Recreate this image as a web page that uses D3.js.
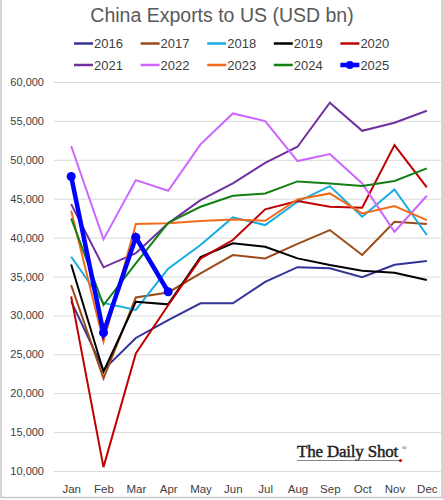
<!DOCTYPE html>
<html>
<head>
<meta charset="utf-8">
<script src="https://cdn.jsdelivr.net/npm/d3@7"></script>
<style>
  html, body { margin: 0; padding: 0; background: #fff; }
  svg { display: block; }
</style>
</head>
<body>
<svg id="chart" width="443" height="500"></svg>
<script>
const months = ["Jan","Feb","Mar","Apr","May","Jun","Jul","Aug","Sep","Oct","Nov","Dec"];
const years = ["2016","2017","2018","2019","2020","2021","2022","2023","2024","2025"];
const colors = ["#333399","#9c4a17","#17ade4","#000000","#c00000","#7030a0","#cc66ff","#f26b1d","#138013","#0000ff"];
const yTicks = [10000,15000,20000,25000,30000,35000,40000,45000,50000,55000,60000];

const v2016 = [31800, 23000, 27100, 29400, 31550, 31550, 34300, 36200, 36050, 34900, 36500, 37000];
const v2017 = [33900, 21900, 32300, 32950, 35400, 37760, 37330, 39200, 40970, 37760, 42040, 41740];
const v2018 = [37540, 31600, 30700, 36000, 39040, 42600, 41610, 44600, 46620, 42680, 46200, 40330];
const v2019 = [36550, 22760, 31750, 31420, 37500, 39260, 38830, 37330, 36470, 35740, 35480, 34540];
const v2020 = [32450, 10500, 25120, 31300, 37300, 39690, 43630, 44700, 43960, 43840, 51890, 46450];
const v2021 = [44300, 36180, 38000, 41830, 44820, 46960, 49610, 51680, 57330, 53730, 54760, 56300];
const v2022 = [51770, 39770, 47390, 46020, 51980, 55960, 54980, 49840, 50730, 46960, 40750, 45380];
const v2023 = [43450, 26620, 41740, 41850, 42130, 42340, 42170, 44900, 45680, 43110, 44050, 42250];
const v2024 = [42470, 31330, 36700, 41900, 43960, 45380, 45680, 47220, 46960, 46620, 47270, 48900];
const v2025 = [47860, 27780, 40030, 33040];

const seriesValues = [v2016, v2017, v2018, v2019, v2020, v2021, v2022, v2023, v2024, v2025];
const series = years.map((y, i) => ({ year: y, color: colors[i], values: seriesValues[i] }));

const svg = d3.select("#chart");
const font = "'Liberation Sans', Arial, sans-serif";

// frame
svg.append("path")
  .attr("d", "M1,0 V497.5 H442 V0")
  .attr("fill", "none").attr("stroke", "#c8c8c8").attr("stroke-width", 1.5);

const x = d3.scalePoint().domain(months).range([55, 443]).padding(0.5);
const y = d3.scaleLinear().domain([10000, 60000]).range([471, 82]);

// gridlines
svg.append("g").selectAll("line").data(yTicks).join("line")
  .attr("x1", 54).attr("x2", 441)
  .attr("y1", d => y(d) + 0.5).attr("y2", d => y(d) + 0.5)
  .attr("stroke", "#d9d9d9").attr("stroke-width", 1);

// y axis labels
const yAxis = d3.axisLeft(y).tickValues(yTicks).tickSize(0).tickPadding(0)
  .tickFormat(d3.format(","));
const gy = svg.append("g").attr("transform", "translate(44,0)").call(yAxis);
gy.select(".domain").remove();
gy.selectAll("text").attr("font-family", font).attr("font-size", "11px").attr("fill", "#404040");

// x axis labels
const xAxis = d3.axisBottom(x).tickSize(0).tickPadding(0);
const gx = svg.append("g").attr("transform", "translate(0,485)").call(xAxis);
gx.select(".domain").remove();
gx.selectAll("text").attr("font-family", font).attr("font-size", "11.5px").attr("fill", "#404040");

// title
svg.append("text").attr("x", 222).attr("y", 22).attr("text-anchor", "middle")
  .attr("font-family", font).attr("font-size", "19.5px").attr("fill", "#595959")
  .text("China Exports to US (USD bn)");

// lines
const line = d3.line().x((d, i) => x(months[i])).y(d => y(d));
const gl = svg.append("g");
series.forEach((s, i) => {
  const last = i === series.length - 1;
  gl.append("path").datum(s.values)
    .attr("fill", "none").attr("stroke", s.color)
    .attr("stroke-width", last ? 4.5 : 2)
    .attr("stroke-linejoin", "miter")
    .attr("d", line);
  if (last) {
    gl.selectAll(".dot").data(s.values).join("circle")
      .attr("cx", (d, j) => x(months[j])).attr("cy", d => y(d))
      .attr("r", 4.5).attr("fill", s.color);
  }
});

// legend
const lg = svg.append("g");
series.forEach((s, i) => {
  const col = i % 5, row = Math.floor(i / 5);
  const lx = 74 + col * 66.6, ly = 43.5 + row * 21.5;
  const last = i === series.length - 1;
  lg.append("line").attr("x1", lx).attr("x2", lx + 19).attr("y1", ly).attr("y2", ly)
    .attr("stroke", s.color).attr("stroke-width", last ? 4.5 : 2.5);
  if (last) lg.append("circle").attr("cx", lx + 9.5).attr("cy", ly).attr("r", 4).attr("fill", s.color);
  lg.append("text").attr("x", lx + 20).attr("y", ly + 4.6)
    .attr("font-family", font).attr("font-size", "13px").attr("fill", "#404040")
    .text(s.year);
});

// watermark
const wm = svg.append("g");
wm.append("text").attr("x", 297).attr("y", 457)
  .attr("font-family", "'Liberation Serif', 'Times New Roman', serif")
  .attr("font-size", "17px").attr("fill", "#222").attr("stroke", "#222").attr("stroke-width", 0.45)
  .attr("letter-spacing", "-0.2")
  .text("The Daily Shot");
wm.append("text").attr("x", 402).attr("y", 450)
  .attr("font-family", "'Liberation Serif', serif").attr("font-size", "6px").attr("fill", "#222")
  .text("®");
wm.append("line").attr("x1", 297).attr("x2", 399).attr("y1", 460.5).attr("y2", 460.5)
  .attr("stroke", "#666").attr("stroke-width", 0.8);
wm.append("circle").attr("cx", 400.5).attr("cy", 460.5).attr("r", 1.6).attr("fill", "#e00000");
</script>
</body>
</html>
